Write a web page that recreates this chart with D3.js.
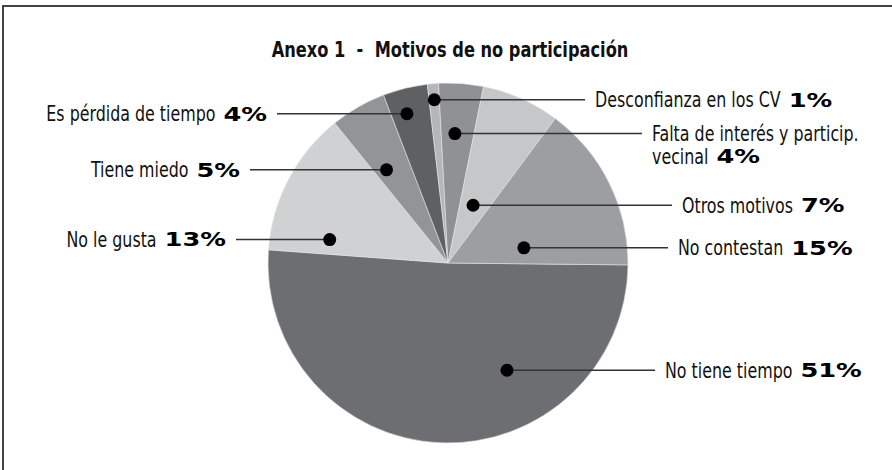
<!DOCTYPE html>
<html>
<head>
<meta charset="utf-8">
<script src="https://cdn.jsdelivr.net/npm/d3@7"></script>
<style>
  body { margin: 0; background: #fff; }
  svg { display: block; }
</style>
</head>
<body>
<svg id="chart" width="892" height="470"></svg>
<script>
// data
const labels = ["No tiene tiempo", "No le gusta", "Tiene miedo", "Es pérdida de tiempo",
  "Desconfianza en los CV", "Falta de interés y particip.|vecinal", "Otros motivos", "No contestan"];
const values = [51, 13, 5, 4, 1, 4, 7, 15];
const colors = ["#6d6e72", "#d0d1d3", "#929497", "#5f6062", "#b5b6b8", "#8f9194", "#c6c7c9", "#9c9ea1"];

// where the dot sits inside each slice (fraction of slice angle, fraction of radius)
const dotT = [0.33, 0.15, 0.31, 0.39, 0.5, 0.42, 0.48, 0.78];
const dotR = [0.68, 0.67, 0.62, 0.86, 0.91, 0.72, 0.35, 0.43];
const lineEnd = [655, 236, 250, 277, 585, 642, 672, 668];
const side = ["r", "l", "l", "l", "r", "r", "r", "r"];

const width = 892, height = 470;
const cx = 448, cy = 263, radius = 180;
const labelFont = "'Liberation Sans Narrow', 'DejaVu Sans Condensed', 'Arial Narrow', sans-serif";
const pctFont = "'DejaVu Sans', sans-serif";
const pctScale = 1.35;
const nameScale = 0.84;

const svg = d3.select("#chart");

// frame (cut at right and bottom)
svg.append("path")
  .attr("d", `M3,${height} L3,6 L${width},6`)
  .attr("fill", "none")
  .attr("stroke", "#444")
  .attr("stroke-width", 2);

svg.append("text")
  .attr("transform", "translate(450,57) scale(0.82,1)")
  .attr("text-anchor", "middle")
  .attr("font-family", labelFont)
  .attr("font-weight", "bold")
  .attr("font-size", 22)
  .attr("fill", "#111")
  .attr("xml:space", "preserve")
  .text("Anexo 1  -  Motivos de no participación");

const start = 90.6 * Math.PI / 180;
const pie = d3.pie().sort(null).value(d => d).startAngle(start).endAngle(start + 2 * Math.PI);
const arcs = pie(values);
const arc = d3.arc().innerRadius(0).outerRadius(radius);

const g = svg.append("g").attr("transform", `translate(${cx},${cy})`);

g.selectAll("path.slice")
  .data(arcs)
  .join("path")
  .attr("class", "slice")
  .attr("d", arc)
  .attr("fill", (d, i) => colors[i])
  .attr("stroke", "#e4e4e4")
  .attr("stroke-width", 0.6);

arcs.forEach((s, i) => {
  const a = s.startAngle + dotT[i] * (s.endAngle - s.startAngle);
  const x = cx + dotR[i] * radius * Math.sin(a);
  const y = cy - dotR[i] * radius * Math.cos(a);
  const left = side[i] === "l";
  const x2 = lineEnd[i];

  svg.append("line")
    .attr("x1", x).attr("y1", y)
    .attr("x2", x2).attr("y2", y)
    .attr("stroke", "#333")
    .attr("stroke-width", 1.5);

  svg.append("circle")
    .attr("cx", x).attr("cy", y)
    .attr("r", 6.5)
    .attr("fill", "#000");

  const lines = labels[i].split("|");
  const pct = values[i] + "%";

  const pctText = svg.append("text")
    .attr("font-family", pctFont)
    .attr("font-weight", "bold")
    .attr("font-size", 19)
    .attr("fill", "#000")
    .attr("dy", "0.36em")
    .text(pct);
  const pw = pctText.node().getComputedTextLength() * pctScale;

  const name = (txt, tx, ty, anchor) => {
    const t = svg.append("text")
      .attr("transform", `translate(${tx},${ty}) scale(${nameScale},1)`)
      .attr("text-anchor", anchor)
      .attr("font-family", labelFont)
      .attr("font-size", 21)
      .attr("fill", "#111")
      .attr("dy", "0.35em")
      .text(txt);
    return t.node().getComputedTextLength() * nameScale;
  };

  if (left) {
    const px = x2 - 10 - pw;
    pctText.attr("transform", `translate(${px},${y}) scale(${pctScale},1)`);
    name(lines[0], px - 8, y, "end");
  } else {
    const tx = x2 + 10;
    let lastW = 0, lastY = y;
    lines.forEach((ln, k) => {
      lastY = y + k * 23;
      lastW = name(ln, tx, lastY, "start");
    });
    pctText.attr("transform", `translate(${tx + lastW + 8},${lastY}) scale(${pctScale},1)`);
  }
});
</script>
</body>
</html>
